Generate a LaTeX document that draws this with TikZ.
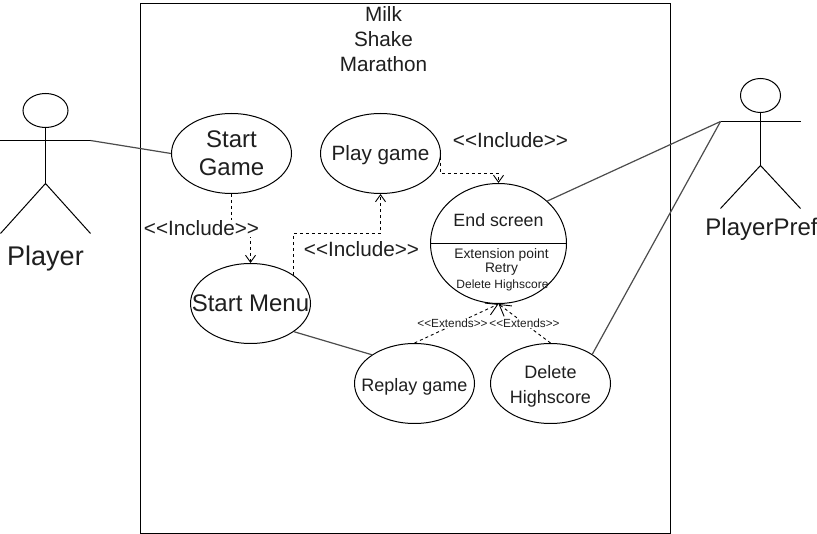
\documentclass[tikz,border=0pt]{standalone}
\usepackage{fontspec}
\setmainfont{Liberation Sans}
\usetikzlibrary{arrows.meta,shapes.geometric}
\newcommand{\fsz}[1]{\fontsize{#1}{#1}\selectfont}
\tikzset{
  every node/.style={text=black!88},
  usecase/.style={draw=black,ellipse,line width=1pt,minimum width=120pt,minimum height=80pt,inner sep=0pt,fill=white},
  txt/.style={inner sep=0pt,align=center},
  lbl/.style={inner sep=1pt,fill=white,font=\fsz{20.7}},
  extlbl/.style={inner sep=0.5pt,fill=white,font=\fsz{11.8}},
  assoc/.style={draw=black!70,line width=1.2pt},
  dep/.style={draw=black,line width=0.9pt,dash pattern=on 3pt off 3pt,-{Straight Barb[length=7pt,width=10pt,line width=0.9pt]}},
  depbig/.style={draw=black,line width=0.9pt,dash pattern=on 3pt off 3pt,-{Straight Barb[length=11pt,width=13pt,line width=0.9pt]}},
  actorline/.style={draw=black,line width=1pt}
}
\begin{document}
\begin{tikzpicture}[x=1pt,y=-1pt]
\useasboundingbox (-0.5,-0.5) rectangle (816.5,533.5);
\fill[white] (-0.5,-0.5) rectangle (816.5,533.5);
\node[draw=black,line width=1pt,minimum width=530pt,minimum height=530pt,inner sep=0pt] (boundary) at (405,268) {};
\node[txt] (title1) at (383,14) {\fsz{20.7}Milk};
\node[txt] (title2) at (383,39) {\fsz{20.7}Shake};
\node[txt] (title3) at (383,64) {\fsz{20.7}Marathon};

\node[usecase] (startgame) at (231,153) {};
\node[usecase] (playgame) at (380,153) {};
\node[usecase,minimum width=136pt,minimum height=120pt] (endscreen) at (498,243) {};
\node[usecase] (startmenu) at (250,303) {};
\node[usecase] (replay) at (414,383) {};
\node[usecase] (delete) at (550,383) {};

\node[txt] (sgt1) at (231,139) {\fsz{24}Start};
\node[txt] (sgt2) at (231,167) {\fsz{24}Game};
\node[txt] (pgt) at (380,155) {\fsz{20.7}Play game};
\node[txt] (smt) at (250,303) {\fsz{24}Start Menu};
\node[txt] (rpt) at (414,386) {\fsz{18}Replay game};
\node[txt] (dlt1) at (550,372) {\fsz{18}Delete};
\node[txt] (dlt2) at (550,398) {\fsz{18}Highscore};

\draw[actorline] (endscreen.west) -- (endscreen.east);
\node[txt] (endtitle) at (498,220) {\fsz{17.8}End screen};
\node[txt] (extpoint) at (501,254) {\fsz{13.8}Extension point};
\node[txt] (retry) at (501,269) {\fsz{13.8}Retry};
\node[txt] (delhs) at (502,285) {\fsz{12}Delete Highscore};

% actors
\node[draw=black,ellipse,line width=1pt,minimum width=45pt,minimum height=34pt,inner sep=0pt] (playerhead) at (45,110) {};
\coordinate (playerhip) at (45,183);
\coordinate (playerL) at (0,140);
\coordinate (playerR) at (90,140);
\draw[actorline] (playerhead.south) -- (playerhip);
\draw[actorline] (playerL) -- (playerR);
\coordinate (playerFL) at (0,233);
\coordinate (playerFR) at (90,233);
\draw[actorline] (playerFL) -- (playerhip) -- (playerFR);
\node[txt] (playerlabel) at (45,258) {\fsz{27}Player};

\node[draw=black,ellipse,line width=1pt,minimum width=40pt,minimum height=34pt,inner sep=0pt] (prefhead) at (760,95) {};
\coordinate (prefhip) at (760,165);
\coordinate (prefL) at (720,121);
\coordinate (prefR) at (800,121);
\draw[actorline] (prefhead.south) -- (prefhip);
\draw[actorline] (prefL) -- (prefR);
\coordinate (prefFL) at (720,208);
\coordinate (prefFR) at (800,208);
\draw[actorline] (prefFL) -- (prefhip) -- (prefFR);
\node[txt] (preflabel) at (761,229) {\fsz{24}PlayerPref};

% associations
\draw[assoc] (playerR) -- (startgame.west);
\draw[assoc] (prefL) -- (endscreen.41);
\draw[assoc] (prefL) -- (delete.35);
\draw[assoc] (startmenu.-33) -- (replay.146);

% dependencies
\coordinate (sm1) at (231,228);
\draw[dep] (startgame.south) -- (sm1) -- (sm1 -| startmenu.north) -- (startmenu.north);
\node[lbl] (inc1) at (201,228) {<{}<Include>{}>};

\coordinate (pg1) at (292,233);
\draw[dep] (startmenu.34) -- (startmenu.34 |- pg1) -- (pg1 -| playgame.south) -- (playgame.south);
\node[lbl,fill=none] (inc2) at (361,249) {<{}<Include>{}>};

\coordinate (es1) at (440,173);
\draw[dep] (playgame.-3) -- (playgame.-3 |- es1) -- (es1 -| endscreen.north) -- (endscreen.north);
\node[lbl,fill=none] (inc3) at (510,140) {<{}<Include>{}>};

\draw[depbig] (replay.north) -- (endscreen.south);
\draw[depbig] (delete.north) -- (endscreen.south);
\node[extlbl] (ext1) at (452,323) {<{}<Extends>{}>};
\node[extlbl] (ext2) at (524,323) {<{}<Extends>{}>};
\end{tikzpicture}
\end{document}
